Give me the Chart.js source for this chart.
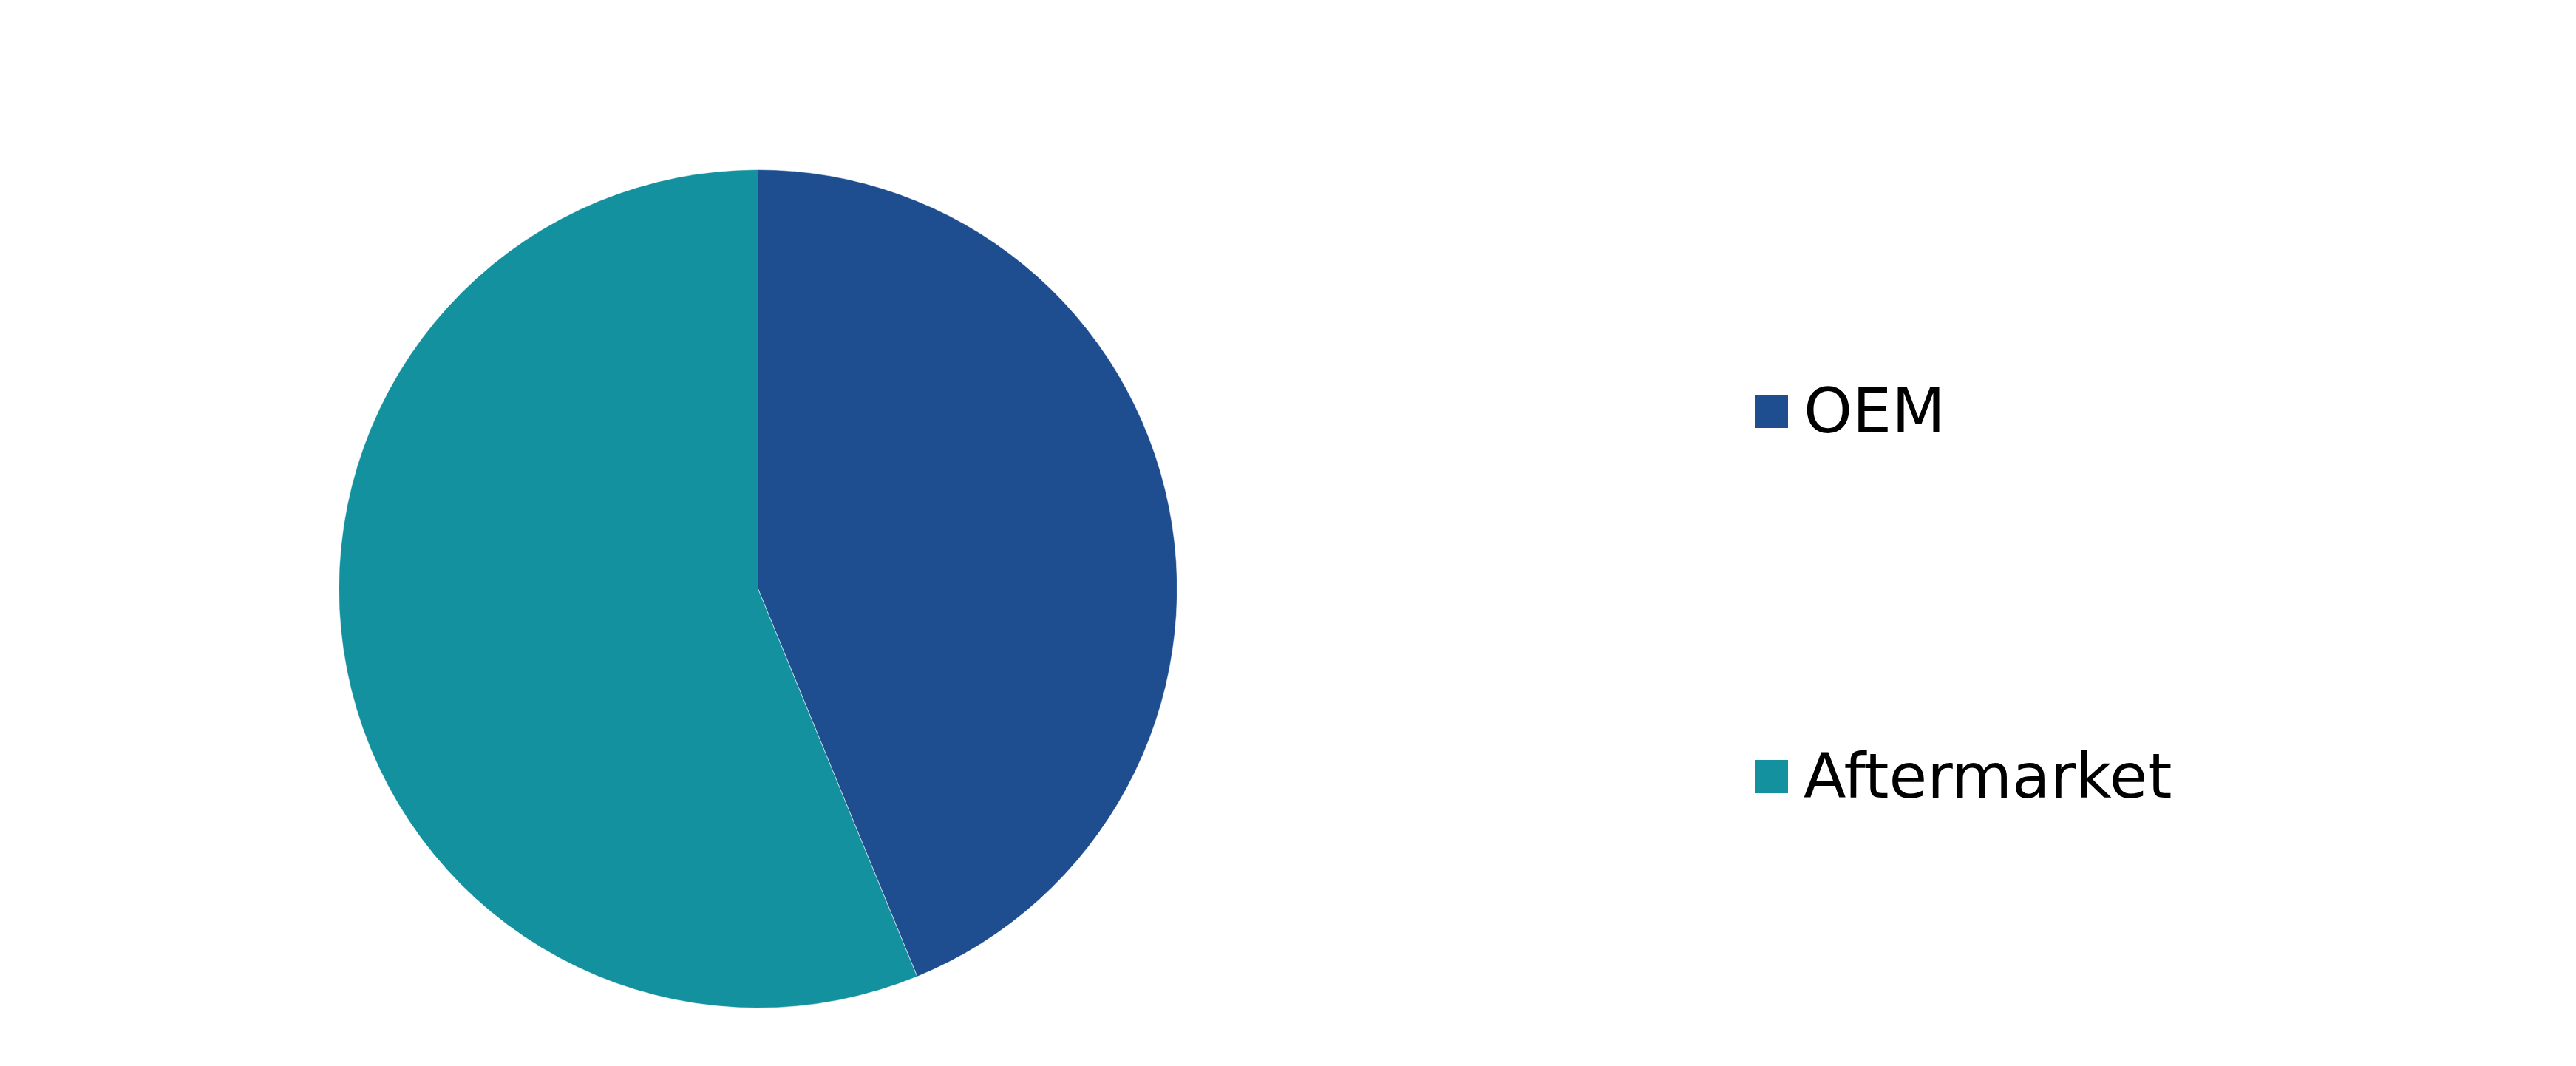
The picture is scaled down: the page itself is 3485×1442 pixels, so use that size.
<!DOCTYPE html>
<html>
<head>
<meta charset="utf-8">
<script src="https://cdn.jsdelivr.net/npm/chart.js@4"></script>
<style>
  html, body { margin: 0; padding: 0; background: #ffffff; }
  #wrap { position: relative; width: 3485px; height: 1442px; }
  #chart { position: absolute; left: 0; top: 0; }
  #legend { position: absolute; left: 2374px; top: 514px; font-family: "DejaVu Sans", sans-serif; font-size: 84px; color: #000; }
  .item { display: flex; align-items: center; height: 84px; line-height: 84px; margin-bottom: 410px; white-space: nowrap; }
  .swatch { width: 45px; height: 45px; flex: none; }
  .label { margin-left: 21px; }
</style>
</head>
<body>
<div id="wrap">
  <canvas id="chart" width="3485" height="1442"></canvas>
  <div id="legend"></div>
</div>
<script>
const categories = ["OEM", "Aftermarket"];
const shares = [43.8, 56.2];
const colors = ["#1f4e90", "#13919e"];

const legendEl = document.getElementById('legend');
categories.forEach((name, i) => {
  const row = document.createElement('div');
  row.className = 'item';
  const sw = document.createElement('span');
  sw.className = 'swatch';
  sw.style.background = colors[i];
  const tx = document.createElement('span');
  tx.className = 'label';
  tx.textContent = name;
  row.appendChild(sw);
  row.appendChild(tx);
  legendEl.appendChild(row);
});

new Chart(document.getElementById('chart'), {
  type: 'pie',
  data: {
    labels: categories,
    datasets: [{
      data: shares,
      backgroundColor: colors,
      borderColor: 'rgba(255,255,255,0.55)',
      borderWidth: 1
    }]
  },
  options: {
    responsive: false,
    animation: false,
    layout: { padding: { left: 458, right: 1892, top: 229, bottom: 78 } },
    plugins: {
      legend: { display: false },
      tooltip: { enabled: false }
    }
  }
});
</script>
</body>
</html>
